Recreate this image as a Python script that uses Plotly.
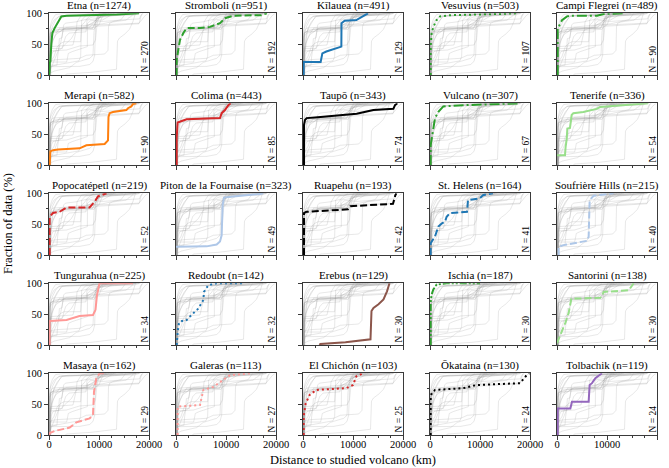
import plotly.graph_objects as go

# ---------------- data (distance km, cumulative % of data) ----------------
titles = ["Etna (n=1274)", "Stromboli (n=951)", "Kīlauea (n=491)", "Vesuvius (n=503)", "Campi Flegrei (n=489)",
          "Merapi (n=582)", "Colima (n=443)", "Taupō (n=343)", "Vulcano (n=307)", "Tenerife (n=336)",
          "Popocatépetl (n=219)", "Piton de la Fournaise (n=323)", "Ruapehu (n=193)", "St. Helens (n=164)", "Soufrière Hills (n=215)",
          "Tungurahua (n=225)", "Redoubt (n=142)", "Erebus (n=129)", "Ischia (n=187)", "Santorini (n=138)",
          "Masaya (n=162)", "Galeras (n=113)", "El Chichón (n=103)", "Ōkataina (n=130)", "Tolbachik (n=119)"]
n_counts = [270, 192, 129, 107, 90, 90, 85, 74, 67, 54, 52, 49, 42, 41, 40, 34, 32, 30, 30, 30, 29, 27, 25, 24, 24]

etna_d = [0, 100, 150, 270, 470, 670, 1130, 1800, 2470, 3500, 9000, 13500, 18000]
etna_f = [0, 5, 20, 22, 51, 68, 76, 86, 95, 96, 96.5, 98, 100]
strom_d = [100, 130, 470, 800, 1470, 2130, 4800, 6800, 8800, 9800, 11400, 17000, 18200]
strom_f = [0, 24, 41, 57, 68, 76, 76, 78, 84, 92, 96, 97, 100]
kil_d = [130, 130, 3530, 3870, 4670, 6330, 7670, 7700, 8330, 10670, 13000]
kil_f = [0, 21, 21, 35, 38, 43, 46, 84, 88, 89, 100]
ves_d = [130, 130, 330, 670, 1330, 2000, 4000, 10000, 14000, 17300]
ves_f = [0, 46, 68, 78, 89, 95, 97, 97.5, 99, 100]
cf_d = [130, 130, 330, 1000, 2000, 2670, 8000, 9330, 13300]
cf_f = [0, 73, 78, 89, 95, 96, 96, 99, 100]
mer_d = [130, 130, 270, 800, 1800, 6130, 7470, 11130, 11800, 11900, 12130, 12800, 15470, 15800, 16470, 16800, 17470]
mer_f = [0, 13, 22, 24, 25, 27, 32, 34, 40, 78, 84, 86, 89, 92, 95, 99, 100]
col_d = [130, 130, 330, 1130, 2130, 8800, 9130, 9800, 10470, 10930]
col_f = [0, 43, 69, 71, 74, 76, 84, 89, 97, 100]
tau_d = [200, 200, 400, 730, 2400, 7400, 10730, 14070, 18070, 18400, 18870]
tau_f = [0, 65, 73, 76, 77, 80, 83, 89, 91, 97, 100]
vul_d = [130, 130, 670, 1000, 1670, 2670, 6670, 13300, 18000]
vul_f = [0, 32, 59, 76, 86, 95, 97, 99, 100]
ten_d = [0, 1600, 1730, 1930, 2070, 2600, 2930, 3270, 5270, 7930, 8600, 17930, 18270]
ten_f = [16, 16, 30, 41, 59, 60, 81, 84, 86, 91, 94, 99, 100]
popo_d = [130, 130, 800, 2100, 3500, 8100, 9100, 9800, 11500]
popo_f = [0, 62, 68, 70, 77, 77, 86, 95, 100]
pit_d = [0, 6130, 8130, 8800, 9130, 9330, 9600, 11470, 16800, 17470]
pit_f = [13.5, 14, 17, 22, 32, 81, 93, 95, 99, 100]
rua_d = [200, 200, 670, 9000, 9470, 18000, 18470, 18670]
rua_f = [0, 68, 70, 74, 79, 83, 97, 100]
sth_d = [130, 130, 1000, 1670, 2330, 3000, 3330, 4000, 7400, 7600, 10000, 10600, 12600]
sth_f = [0, 19, 30, 46, 51, 54, 62, 68, 70, 89, 92, 97, 100]
sou_d = [330, 330, 1330, 6000, 6330, 6530, 7330, 10000, 11330]
sou_f = [0, 13.5, 16, 23, 30, 89, 96, 98, 100]
tun_d = [130, 130, 3500, 6100, 8800, 9300, 9600, 10100, 16800]
tun_f = [0, 39, 40.5, 47, 48.6, 57, 81, 100, 100]
red_d = [130, 470, 800, 2130, 3130, 4470, 5470, 5600, 6470, 8130, 13470]
red_f = [0, 32, 38, 40.5, 49, 59, 73, 86, 97, 100, 100]
ere_d = [3300, 3470, 8500, 11500, 13500, 13700, 14100, 15100, 16100, 16800, 17300]
ere_f = [0, 1.6, 4.4, 7, 9.3, 55, 60, 66, 74, 87, 100]
isc_d = [130, 130, 330, 670, 1330, 3330, 10000]
isc_f = [0, 68, 82, 90, 98, 100, 100]
san_d = [0, 667, 1670, 2330, 2870, 8670, 9000, 9330, 14330, 15000, 15330]
san_f = [3, 16, 36, 52, 75, 76.5, 80, 86, 89, 96, 100]
mas_d = [100, 130, 1130, 4130, 5470, 8130, 8800, 9000, 9470, 10130, 11470]
mas_f = [0, 3, 6.5, 12, 20.5, 27, 32, 70, 92, 100, 100]
gal_d = [330, 330, 4800, 5470, 7470, 9470, 10800, 14800]
gal_f = [0, 46, 48.6, 73, 78, 89, 97, 100]
chi_d = [130, 130, 530, 1330, 2670, 8670, 10000, 10670, 12000]
chi_f = [0, 30, 51, 65, 73, 76, 81, 95, 100]
oka_d = [130, 130, 330, 1000, 6670, 9330, 18000, 19330, 19870]
oka_f = [0, 57, 68, 73, 76, 81, 84, 97, 100]
tol_d = [130, 130, 2670, 3000, 6330, 6530, 7000, 7670, 9000]
tol_f = [0, 43, 43, 54, 54, 81, 84, 92, 100]

dists = [etna_d, strom_d, kil_d, ves_d, cf_d, mer_d, col_d, tau_d, vul_d, ten_d,
         popo_d, pit_d, rua_d, sth_d, sou_d, tun_d, red_d, ere_d, isc_d, san_d,
         mas_d, gal_d, chi_d, oka_d, tol_d]
fracs = [etna_f, strom_f, kil_f, ves_f, cf_f, mer_f, col_f, tau_f, vul_f, ten_f,
         popo_f, pit_f, rua_f, sth_f, sou_f, tun_f, red_f, ere_f, isc_f, san_f,
         mas_f, gal_f, chi_f, oka_f, tol_f]

GREEN, LGREEN, BLUE, LBLUE = "#2ca02c", "#98df8a", "#1f77b4", "#aec7e8"
ORANGE, RED, PINK, BROWN, PURPLE, BLACK = "#ff7f0e", "#d62728", "#ff9896", "#8c564b", "#9467bd", "#000000"
line_colors = [GREEN, GREEN, BLUE, GREEN, GREEN,
               ORANGE, RED, BLACK, GREEN, LGREEN,
               RED, LBLUE, BLACK, BLUE, LBLUE,
               PINK, BLUE, BROWN, GREEN, LGREEN,
               PINK, PINK, RED, BLACK, PURPLE]
SOLID, DASH, DOT, DASHDOT, DASHDOTDOT = "solid", "7px,3px", "2px,3px", "10px,3px,2px,3px", "7px,2px,2px,2px,2px,2px"
line_dashes = [SOLID, DASH, SOLID, DOT, DASHDOT,
               SOLID, SOLID, SOLID, DASHDOT, SOLID,
               DASH, SOLID, DASH, DASH, DASH,
               SOLID, DOT, SOLID, DASHDOTDOT, DASH,
               DASH, DOT, DOT, DOT, SOLID]

# ---------------- layout geometry (pixels) ----------------
W, H = 669, 468
col_left = [49, 176, 303, 430, 557]
row_top = [13.3, 103.3, 193.3, 283.3, 373.3]
PW, PH = 100, 61.7
FONT = "Liberation Serif"
AX = "#3a3a3a"

def fx(p):
    return p / W

def fy(p):
    return 1 - p / H

fig = go.Figure()

gray_x, gray_y = [], []
for d, f in zip(dists, fracs):
    gray_x += list(d) + [None]
    gray_y += list(f) + [None]

annotations = []
for i in range(25):
    r, c = divmod(i, 5)
    sfx = "" if i == 0 else str(i + 1)
    xa, ya = "x" + sfx, "y" + sfx
    fig.add_trace(go.Scatter(x=gray_x, y=gray_y, mode="lines", xaxis=xa, yaxis=ya,
                             line=dict(color="rgba(150,150,150,0.38)", width=0.6),
                             hoverinfo="skip", showlegend=False))
    fig.add_trace(go.Scatter(x=dists[i], y=fracs[i], mode="lines", xaxis=xa, yaxis=ya,
                             line=dict(color=line_colors[i], width=2, dash=line_dashes[i]),
                             showlegend=False))
    L, T = col_left[c], row_top[r]
    fig.layout["xaxis" + sfx] = dict(
        domain=[fx(L), fx(L + PW)], anchor=ya, range=[0, 20000],
        showgrid=False, zeroline=False, showline=True, mirror=True, linecolor=AX, linewidth=1,
        ticks="outside", ticklen=4, tickcolor=AX, tickwidth=1,
        tickvals=[0, 10000, 20000], ticktext=["0", "10000", "20000"],
        showticklabels=(r == 4), tickfont=dict(family=FONT, size=10.5, color="black"),
        ticklabelstandoff=-5,
        minor=dict(dtick=2500, tick0=0, ticks="outside", ticklen=2, tickcolor=AX, tickwidth=1, showgrid=False),
        automargin=False, fixedrange=True)
    fig.layout["yaxis" + sfx] = dict(
        domain=[fy(T + PH), fy(T)], anchor=xa, range=[0, 100],
        showgrid=False, zeroline=False, showline=True, mirror=True, linecolor=AX, linewidth=1,
        ticks="outside", ticklen=4, tickcolor=AX, tickwidth=1,
        tickvals=[0, 50, 100], ticktext=["0", "50", "100"],
        showticklabels=(c == 0), tickfont=dict(family=FONT, size=10.5, color="black"),
        minor=dict(dtick=25, tick0=0, ticks="outside", ticklen=2, tickcolor=AX, tickwidth=1, showgrid=False),
        automargin=False, fixedrange=True)
    annotations.append(dict(text=titles[i], x=fx(L + PW / 2), y=fy(T - 0.3), xref="paper", yref="paper",
                            xanchor="center", yanchor="bottom", showarrow=False, borderpad=0,
                            font=dict(family=FONT, size=11, color="black")))
    annotations.append(dict(text="N = %d" % n_counts[i], x=fx(L + PW - 4.5), y=fy(T + PH - 1.5),
                            xref="paper", yref="paper", xanchor="center", yanchor="bottom",
                            textangle=-90, showarrow=False, borderpad=0,
                            font=dict(family=FONT, size=9.5, color="black")))

annotations.append(dict(text="Fraction of data (%)", x=fx(8), y=fy(224), xref="paper", yref="paper",
                        xanchor="center", yanchor="middle", textangle=-90, showarrow=False,
                        font=dict(family=FONT, size=12.5, color="black")))
annotations.append(dict(text="Distance to studied volcano (km)", x=fx(353), y=fy(460), xref="paper", yref="paper",
                        xanchor="center", yanchor="middle", showarrow=False,
                        font=dict(family=FONT, size=12.5, color="black")))

fig.update_layout(width=W, height=H, margin=dict(l=0, r=0, t=0, b=0),
                  paper_bgcolor="white", plot_bgcolor="white",
                  annotations=annotations, showlegend=False,
                  font=dict(family=FONT, color="black"))

fig.write_html("out.html")
